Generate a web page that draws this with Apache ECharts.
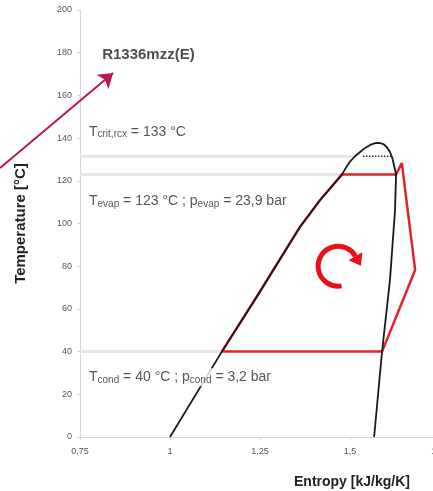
<!DOCTYPE html>
<html>
<head>
<meta charset="utf-8">
<script src="https://cdn.jsdelivr.net/npm/echarts@6/dist/echarts.min.js"></script>
<style>
html, body { margin: 0; background: #fff; }
#chart { width: 433px; height: 491px; }
</style>
</head>
<body>
<div id="chart"></div>
<script>
// saturation dome (liquid side -> top -> vapour side)
var domeS = [1.000, 1.144, 1.244, 1.361, 1.417, 1.478, 1.490, 1.500, 1.514, 1.528, 1.542, 1.556, 1.570, 1.583, 1.594, 1.603, 1.611, 1.617, 1.622, 1.628, 1.625, 1.611, 1.589, 1.567];
var domeT = [0, 40, 66.5, 98.4, 111, 123, 126.5, 129, 131.5, 133.5, 135.4, 136.8, 137.6, 137.7, 137.1, 135.6, 133.5, 131, 127.5, 123, 106, 73.5, 40, 0];

// ORC cycle
var cycleS = [1.144, 1.244, 1.361, 1.417, 1.478, 1.628, 1.644, 1.681, 1.589, 1.144];
var cycleT = [40, 66.5, 98.4, 111, 123, 123, 128.3, 78.2, 40, 40];

// helper lines
var tCrit = 131.5, tEvap = 123, tCond = 40;
var critLineS = [0.75, 1.514];
var critDotS = [1.536, 1.617];
var evapLineS = [0.75, 1.478];
var condLineS = [0.75, 1.144];

// annotation texts, anchored at [s, T]
var labels = [
  { name: 'fluid', value: [0.806, 179] },
  { name: 'crit', value: [0.7694, 143] },
  { name: 'evap', value: [0.7694, 110.5] },
  { name: 'cond', value: [0.7694, 28] }
];
var arrowFrom = [0.528, 126];
var arrowTo = [0.842, 170.5];
var turnCenter = [1.467, 80];

function pairs(xs, ys) {
  return xs.map(function (x, i) { return [x, ys[i]]; });
}
function flat(xs, y) {
  return xs.map(function (x) { return [x, y]; });
}

var font = 'Liberation Sans, Arial, sans-serif';
var rich = {
  m: { fontSize: 14, color: '#2a2a2a', fontFamily: font },
  s: { fontSize: 10, color: '#2a2a2a', fontFamily: font, padding: [6, 0, 0, 0] },
  b: { fontSize: 15, fontWeight: 'bold', color: '#222', fontFamily: font }
};
var texts = {
  fluid: '{b|R1336mzz(E)}',
  crit: '{m|T}{s|crit,rcx}{m| = 133 °C}',
  evap: '{m|T}{s|evap}{m| = 123 °C ; p}{s|evap}{m| = 23,9 bar}',
  cond: '{m|T}{s|cond}{m| = 40 °C ; p}{s|cond}{m| = 3,2 bar}'
};

var chart = echarts.init(document.getElementById('chart'));
chart.setOption({
  animation: false,
  backgroundColor: '#fff',
  grid: { left: 80, right: -7, top: 10, bottom: 54, containLabel: false, outerBoundsMode: 'none' },
  xAxis: {
    type: 'value', min: 0.75, max: 1.75, interval: 0.25,
    axisLine: { lineStyle: { color: '#d4d4d4', width: 1 } },
    axisTick: { show: true, length: 3, lineStyle: { color: '#d4d4d4' } },
    splitLine: { show: false },
    axisLabel: {
      color: '#555', fontSize: 9, fontFamily: font, margin: 10,
      formatter: function (v) { return String(v).replace('.', ','); }
    }
  },
  yAxis: {
    type: 'value', min: 0, max: 200, interval: 20,
    name: 'Temperature [°C]', nameLocation: 'middle', nameGap: 52,
    nameTextStyle: { fontSize: 15, fontWeight: 'bold', color: '#222', fontFamily: font },
    axisLine: { show: true, lineStyle: { color: '#d4d4d4', width: 1 } },
    axisTick: { show: true, length: 3, lineStyle: { color: '#d4d4d4' } },
    splitLine: { show: false },
    axisLabel: { color: '#555', fontSize: 9, fontFamily: font, margin: 8 }
  },
  series: [
    { type: 'line', data: flat(critLineS, tCrit), symbol: 'none', z: 1,
      lineStyle: { color: '#e6e6e6', width: 3 } },
    { type: 'line', data: flat(evapLineS, tEvap), symbol: 'none', z: 1,
      lineStyle: { color: '#e6e6e6', width: 3 } },
    { type: 'line', data: flat(condLineS, tCond), symbol: 'none', z: 1,
      lineStyle: { color: '#e6e6e6', width: 3 } },
    { type: 'line', data: pairs(cycleS, cycleT), symbol: 'none', z: 3,
      lineStyle: { color: '#e3222b', width: 2.5 } },
    { type: 'line', data: pairs(domeS, domeT), symbol: 'none', z: 4,
      lineStyle: { color: '#1a1a1a', width: 1.8, join: 'round' } },
    { type: 'line', data: flat(critDotS, tCrit), symbol: 'none', z: 4,
      lineStyle: { color: '#222', width: 1.5, type: 'dotted' } },
    { type: 'lines', coordinateSystem: 'cartesian2d', clip: false, z: 6,
      symbol: ['none', 'arrow'], symbolSize: 14,
      lineStyle: { color: '#c0174b', width: 2, opacity: 1 },
      data: [{ coords: [arrowFrom, arrowTo] }] },
    { type: 'scatter', data: labels, symbolSize: 0, z: 10,
      label: {
        show: true, position: 'right', distance: 0,
        backgroundColor: '#fff', padding: [1, 2],
        formatter: function (p) { return texts[p.name]; },
        rich: rich
      } }
  ]
});

var c = chart.convertToPixel({ gridIndex: 0 }, turnCenter);
var r = 20, a0 = 80 * Math.PI / 180, a1 = 330 * Math.PI / 180;
var ex = c[0] + r * Math.cos(a1), ey = c[1] + r * Math.sin(a1);
var tx = -Math.sin(a1), ty = Math.cos(a1);
var nx = Math.cos(a1), ny = Math.sin(a1);
chart.setOption({
  graphic: [
    { type: 'arc', z: 20,
      shape: { cx: c[0], cy: c[1], r: r, startAngle: a0, endAngle: a1, clockwise: true },
      style: { stroke: '#e8101a', lineWidth: 5, fill: null } },
    { type: 'polygon', z: 20,
      shape: { points: [
        [ex + tx * 11, ey + ty * 11],
        [ex + nx * 8, ey + ny * 8],
        [ex - nx * 8, ey - ny * 8]
      ] },
      style: { fill: '#e8101a' } },
    { type: 'text', left: 294, top: 475, z: 20,
      style: { text: 'Entropy [kJ/kg/K]', fontSize: 14, fontWeight: 'bold', fill: '#222', fontFamily: font } }
  ]
});
</script>
</body>
</html>
